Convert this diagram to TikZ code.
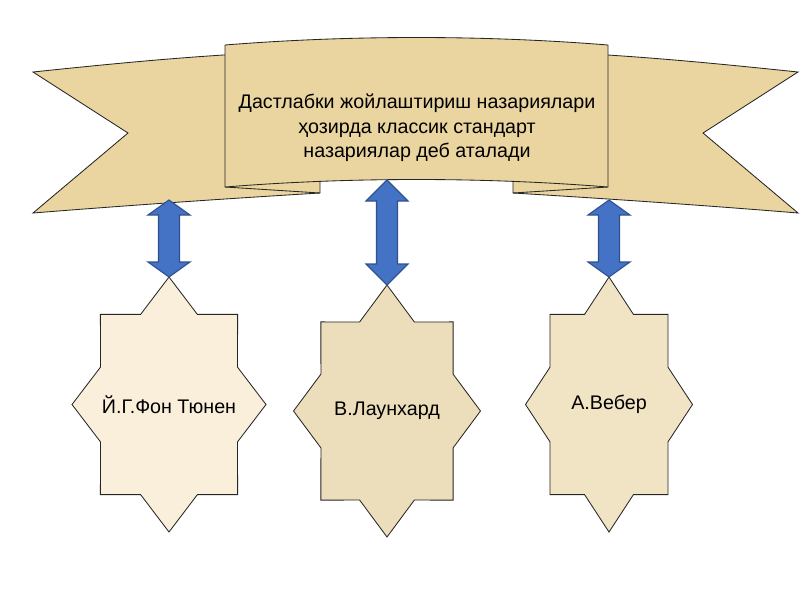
\documentclass[tikz,border=0pt]{standalone}
\usepackage{fontspec}
\setmainfont{Liberation Sans}
\usepackage{tikz}
\usepackage{xcolor}
\definecolor{Parchment}{RGB}{234,213,160}
\definecolor{StarLight}{RGB}{250,239,218}
\definecolor{StarMid}{RGB}{236,221,187}
\definecolor{StarWarm}{RGB}{241,228,196}
\definecolor{ArrowBlue}{RGB}{68,114,196}
\definecolor{ArrowEdge}{RGB}{47,82,143}
\usetikzlibrary{calc}

\begin{document}
\begin{tikzpicture}[x=0.025cm, y=-0.025cm,
    rb/.style={draw=black!85, fill=Parchment, line width=0.6pt, line join=miter},
    st/.style={draw=black!85, line width=0.6pt, line join=miter},
    lbl/.style={font=\fontsize{14}{17.5}\selectfont, align=center, inner sep=0pt},
    da/.style={draw=ArrowEdge, fill=ArrowBlue, line width=0.8pt, line join=miter}
]
    \useasboundingbox[fill=white] (0,0) rectangle (800,600);
    % ribbon tails and folds
    \draw[rb] (33,72) .. controls (100,65) and (170,58) .. (240,54) -- (240,178) -- (320,178) -- (320,193)
        .. controls (220,199) and (120,206) .. (33,213) -- (128,133) -- cycle;
    \draw[rb] (798,72) .. controls (731,65) and (661,58) .. (591,54) -- (591,178) -- (513,178) -- (513,193)
        .. controls (613,199) and (713,206) .. (798,213) -- (703,133) -- cycle;
    \draw[st] (225,187) -- (320,193);
    \draw[st] (608,187) -- (513,193);
    % middle of the ribbon
    \draw[rb] (225,45) .. controls (350,35) and (483,35) .. (608,45) -- (608,187)
        .. controls (483,177) and (350,177) .. (225,187) -- cycle;
    \node[lbl] (banner) at (417,128) {Дастлабки жойлаштириш назариялари\\ ҳозирда классик стандарт\\ назариялар деб аталади};

    % stars
    \foreach \nm/\cx/\cy/\a/\b/\col/\txt in {thunen/169/404.5/97/127.5/StarLight/Й.Г.Фон Тюнен,
        launhardt/387/411/93.5/126/StarMid/В.Лаунхард,
        weber/609/404.5/83.5/127.5/StarWarm/А.Вебер} {
      \begin{scope}[shift={(\cx,\cy)}, xscale=\a, yscale=\b]
        \draw[st, fill=\col] (0,-1) \foreach \k in {0,...,7} {-- ({-67.5+45*\k}:0.765) -- ({-45+45*\k}:1)} -- cycle;
        \coordinate (\nm-top) at (0,-1);
      \end{scope}
      \node[lbl] (\nm) at (\cx,\cy) {\txt};
    }

    % double arrows
    \coordinate (b1) at (169,200);
    \coordinate (b2) at (387,180);
    \coordinate (b3) at (609,200);
    \foreach \s/\e/\h in {b1/thunen-top/15, b2/launhardt-top/21, b3/weber-top/15}
      \draw[da] (\s) -- ($(\s)+(21,\h)$) -- ($(\s)+(10.5,\h)$) -- ($(\e)+(10.5,-\h)$) -- ($(\e)+(21,-\h)$)
        -- (\e) -- ($(\e)+(-21,-\h)$) -- ($(\e)+(-10.5,-\h)$) -- ($(\s)+(-10.5,\h)$) -- ($(\s)+(-21,\h)$) -- cycle;
\end{tikzpicture}
\end{document}
